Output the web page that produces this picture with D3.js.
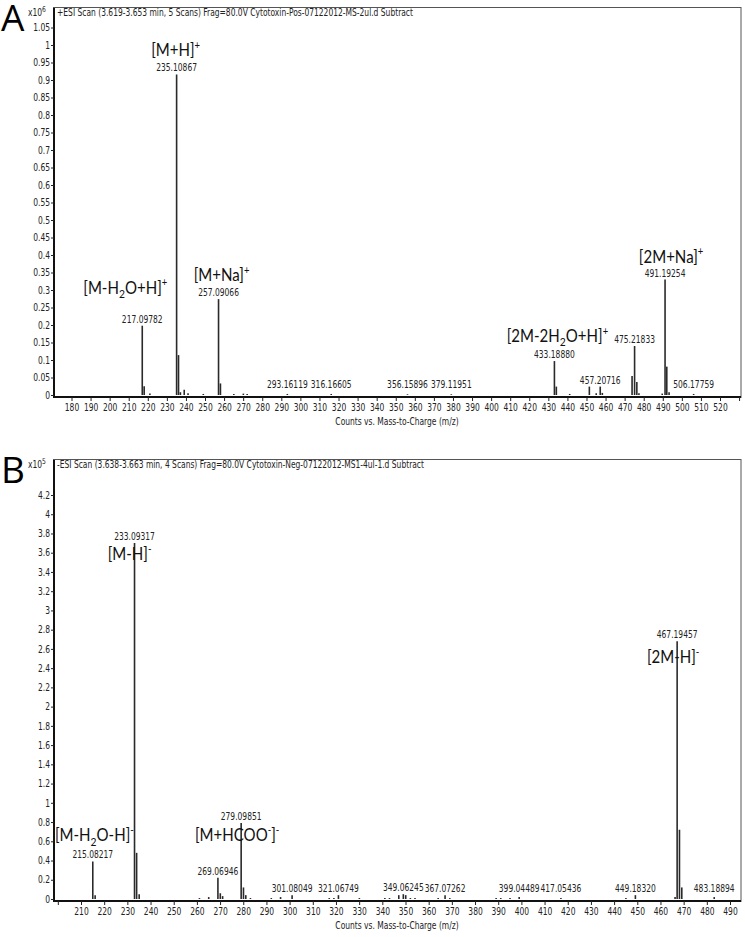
<!DOCTYPE html>
<html lang="en">
<head>
  <meta charset="UTF-8">
  <script src="https://d3js.org/d3.v7.min.js"></script>
  <style>
    body { margin: 0; background: #fff; }
    text { fill: #222; }
    .narrow { font-family: "Liberation Sans Narrow", "DejaVu Sans Condensed", sans-serif; font-size: 10px; }
    .ion { font-family: Lato, "Open Sans", sans-serif; font-size: 17.5px; fill: #111; }
    .panel { font-family: "Open Sans", sans-serif; font-size: 37px; fill: #000; }
  </style>
</head>
<body>
<svg id="chart" width="745" height="937"></svg>
<script>
// panel A: positive mode, counts x10^6
var mzA  = [217.098, 218.1, 221.1, 235.109, 236.11, 237.1, 239.1, 241.1, 249.1, 257.091, 258.09, 265.1, 270.1, 272.1,
            293.161, 316.166, 356.159, 379.120, 433.189, 434.19, 441.2, 451.5, 455.1, 457.207, 458.3, 473.9, 475.218,
            476.4, 477.5, 489.7, 491.193, 492.1, 493.3, 506.178];
var intA = [0.198, 0.025, 0.004, 0.916, 0.114, 0.008, 0.015, 0.005, 0.003, 0.274, 0.033, 0.003, 0.004, 0.003,
            0.003, 0.003, 0.002, 0.002, 0.097, 0.024, 0.003, 0.024, 0.005, 0.024, 0.006, 0.054, 0.14,
            0.037, 0.005, 0.004, 0.33, 0.081, 0.008, 0.003];
var labelMzA  = [217.098, 235.109, 257.091, 293.161, 316.166, 356.159, 379.120, 433.189, 457.207, 475.218, 491.193, 506.178];
var labelTxtA = ["217.09782", "235.10867", "257.09066", "293.16119", "316.16605", "356.15896", "379.11951",
                 "433.18880", "457.20716", "475.21833", "491.19254", "506.17759"];
var ionMzA  = [217.098, 235.109, 257.091, 433.189, 491.193];
var ionTxtA = [[["[M-H"], ["2", "sub"], ["O+H]"], ["+", "sup"]],
               [["[M+H]"], ["+", "sup"]],
               [["[M+Na]"], ["+", "sup"]],
               [["[2M-2H"], ["2", "sub"], ["O+H]"], ["+", "sup"]],
               [["[2M+Na]"], ["+", "sup"]]];
var yTicksA = d3.range(0, 21.5).map(i => +(i * 0.05).toFixed(2));
var xTicksA = d3.range(180, 531, 10);

// panel B: negative mode, counts x10^5
var mzB  = [215.082, 216.1, 233.093, 234.0, 235.1, 261.1, 265.1, 269.069, 270.1, 271.1, 279.099, 280.1, 281.1, 283.1,
            292.1, 296.1, 301.080, 317.1, 319.1, 321.067, 330.1, 341.1, 343.1, 347.1, 349.062, 350.1, 352.1, 354.1,
            364.1, 367.073, 369.1, 389.1, 391.1, 395.1, 399.045, 417.054, 445.1, 449.183, 466.3, 467.195, 468.2, 469.2, 483.189];
var intB = [0.39, 0.04, 3.7, 0.48, 0.05, 0.01, 0.02, 0.22, 0.06, 0.03, 0.79, 0.12, 0.04, 0.01,
            0.01, 0.02, 0.04, 0.01, 0.01, 0.04, 0.01, 0.01, 0.01, 0.04, 0.05, 0.04, 0.01, 0.01,
            0.01, 0.04, 0.01, 0.01, 0.01, 0.01, 0.02, 0.01, 0.01, 0.04, 0.02, 2.68, 0.72, 0.12, 0.02];
var labelMzB  = [215.082, 233.093, 269.069, 279.099, 301.080, 321.067, 349.062, 367.073, 399.045, 417.054, 449.183, 467.195, 483.189];
var labelTxtB = ["215.08217", "233.09317", "269.06946", "279.09851", "301.08049", "321.06749", "349.06245",
                 "367.07262", "399.04489", "417.05436", "449.18320", "467.19457", "483.18894"];
var ionMzB  = [215.082, 233.093, 279.099, 467.195];
var ionTxtB = [[["[M-H"], ["2", "sub"], ["O-H]"], ["-", "sup"]],
               [["[M-H]"], ["-", "sup"]],
               [["[M+HCOO"], ["-", "sup"], ["]"], ["-", "sup"]],
               [["[2M-H]"], ["-", "sup"]]];
var yTicksB = d3.range(0, 21.5).map(i => +(i * 0.2).toFixed(1));
var xTicksB = d3.range(200, 491, 10);

var headerA = "+ESI Scan (3.619-3.653 min, 5 Scans) Frag=80.0V Cytotoxin-Pos-07122012-MS-2ul.d  Subtract";
var headerB = "-ESI Scan (3.638-3.663 min, 4 Scans) Frag=80.0V Cytotoxin-Neg-07122012-MS1-4ul-1.d  Subtract";

var svg = d3.select('#chart');

// squeeze text horizontally (the instrument font is a narrow one)
function squeeze(sel, k) {
  k = k || 0.84;
  sel.each(function () {
    var t = d3.select(this);
    var x = +t.attr('x') || 0, y = +t.attr('y') || 0;
    t.attr('x', 0).attr('y', 0).attr('transform', 'translate(' + x + ',' + y + ') scale(' + k + ',1)');
  });
}

function drawPanel(o) {
  var g = svg.append('g');
  var x = d3.scaleLinear().domain(o.xDom).range(o.xRange);
  var y = d3.scaleLinear().domain(o.yDom).range(o.yRange);
  var y0 = y(0);

  // frame
  g.append('rect').attr('x', 53.5).attr('y', o.top + 0.5)
    .attr('width', 741 - 53.5).attr('height', y0 + 2 - o.top)
    .attr('fill', 'none').attr('stroke', '#555').attr('stroke-width', 1);

  g.append('text').attr('class', 'panel').attr('x', 1).attr('y', o.top + 24).text(o.letter);

  var hx = g.append('text').attr('class', 'narrow').attr('x', 28).attr('y', o.top + 9);
  hx.append('tspan').text('x10');
  hx.append('tspan').attr('dy', -4).attr('font-size', '8px').text(o.exp);
  squeeze(hx);
  g.append('text').attr('class', 'narrow').attr('x', 57).attr('y', o.top + 9).text(o.header).call(squeeze);

  // y axis
  var ay = g.append('g').attr('transform', 'translate(54,0)')
    .call(d3.axisLeft(y).tickValues(o.yTicks).tickSize(3).tickSizeOuter(0).tickFormat(d => String(d)));
  ay.select('.domain').attr('stroke', '#111').attr('stroke-width', 2)
    .attr('d', 'M0,' + (o.top + 1) + 'V' + (y0 + 3));
  ay.selectAll('.tick text').attr('class', 'narrow').attr('font-family', null).attr('font-size', null)
    .attr('x', -4).call(squeeze);
  ay.selectAll('.tick line').attr('stroke', '#222');

  // x axis
  var ax = g.append('g').attr('transform', 'translate(0,' + (y0 + 2) + ')')
    .call(d3.axisBottom(x).tickValues(o.xTicks).tickSize(4).tickSizeOuter(0)
      .tickFormat(d => (d >= o.xLab[0] && d <= o.xLab[1]) ? d : ''));
  ax.select('.domain').attr('stroke', '#111').attr('stroke-width', 2)
    .attr('d', 'M54,0H741');
  ax.selectAll('.tick text').attr('class', 'narrow').attr('font-family', null).attr('font-size', null)
    .attr('y', 7).call(squeeze);
  ax.selectAll('.tick line').attr('stroke', '#222');

  g.append('text').attr('class', 'narrow').attr('x', 397).attr('y', y0 + 30)
    .attr('text-anchor', 'middle').text('Counts vs. Mass-to-Charge (m/z)').call(squeeze);

  // peaks
  g.selectAll('line.peak').data(o.mz).enter().append('line').attr('class', 'peak')
    .attr('x1', d => x(d)).attr('x2', d => x(d))
    .attr('y1', y0).attr('y2', (d, i) => y(o.int[i]))
    .attr('stroke', '#2a2a2a').attr('stroke-width', 1.6);

  // m/z labels
  function peakTop(m) { return y(o.int[o.mz.indexOf(m)]); }
  g.selectAll('text.mzl').data(o.labelMz).enter().append('text').attr('class', 'narrow')
    .attr('text-anchor', 'middle')
    .attr('x', d => x(d)).attr('y', d => Math.min(peakTop(d), y0 - 4) - 3)
    .text((d, i) => o.labelTxt[i])
    .call(squeeze);

  // ion annotations
  o.ionMz.forEach(function (m, i) {
    var lay = o.ionLayout[i];
    var base = Math.min(peakTop(m), y0 - 4) - 3;
    var t = g.append('text').attr('class', 'ion').attr('text-anchor', lay[0])
      .attr('x', x(m) + lay[1]).attr('y', base + lay[2]);
    o.ionTxt[i].forEach(function (seg) {
      var s = t.append('tspan').text(seg[0]);
      if (seg[1] === 'sup') s.attr('font-size', '11px').attr('baseline-shift', '70%');
      if (seg[1] === 'sub') s.attr('font-size', '12px').attr('baseline-shift', '-40%');
    });
    squeeze(t, 0.86);
  });
}

drawPanel({
  letter: 'A', exp: '6', header: headerA, top: 7,
  xDom: [180, 520], xRange: [71.5, 720], yDom: [0, 1.05], yRange: [395, 27.5],
  yTicks: yTicksA, xTicks: xTicksA, xLab: [180, 520],
  mz: mzA, int: intA, labelMz: labelMzA, labelTxt: labelTxtA,
  ionMz: ionMzA, ionTxt: ionTxtA,
  ionLayout: [['end', 25, -29], ['middle', -1, -15], ['middle', 3, -15], ['middle', 3, -16], ['middle', 6, -14]]
});

drawPanel({
  letter: 'B', exp: '5', header: headerB, top: 459,
  xDom: [210, 490], xRange: [81, 730], yDom: [0, 4.2], yRange: [899, 495],
  yTicks: yTicksB, xTicks: xTicksB, xLab: [210, 490],
  mz: mzB, int: intB, labelMz: labelMzB, labelTxt: labelTxtB,
  ionMz: ionMzB, ionTxt: ionTxtB,
  ionLayout: [['end', 41, -17], ['middle', -5, 20], ['middle', -4, 21], ['middle', -4, 25]]
});
</script>
</body>
</html>
